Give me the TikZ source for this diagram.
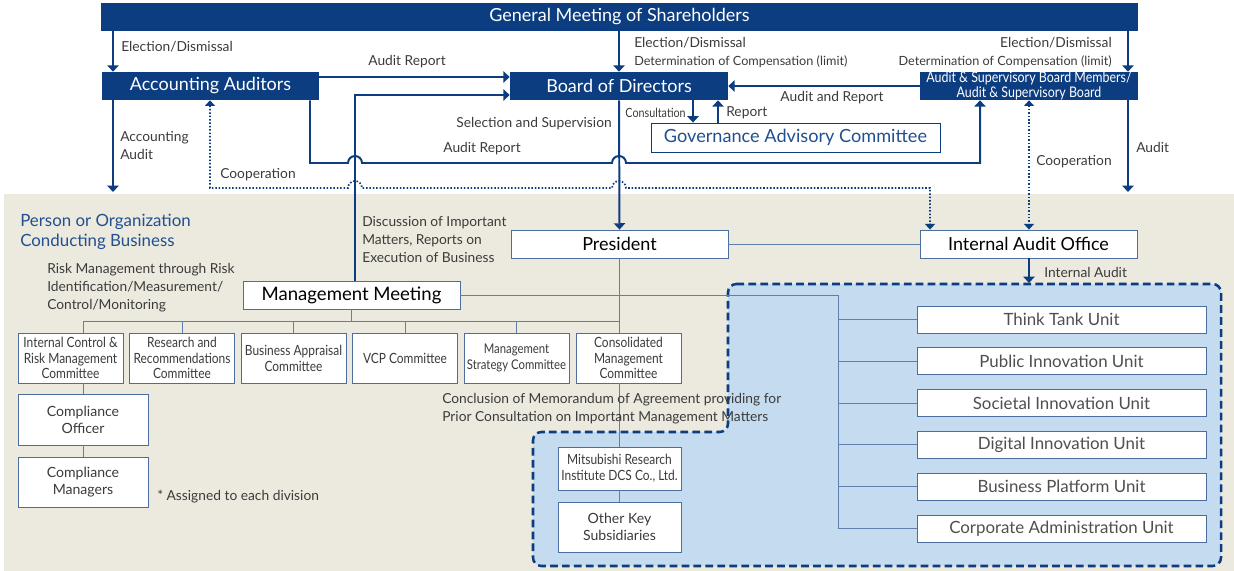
\documentclass[tikz,border=0pt]{standalone}
\usepackage{fontspec}
\setmainfont{Lato}
\newfontfamily\narrowfont[FakeStretch=0.85]{Lato}
\usepackage{xcolor}
\usetikzlibrary{arrows.meta}

\definecolor{navy}{HTML}{0C3D80}
\definecolor{sand}{HTML}{ECEADF}
\definecolor{paleblue}{HTML}{C5DCF0}
\definecolor{frame}{HTML}{4B6E9E}
\definecolor{ink}{HTML}{3B3B3B}
\definecolor{wire}{HTML}{5F7FAD}
\definecolor{heading}{HTML}{21508F}

\newcommand{\pxu}{0.025cm}
\newcommand{\detline}{{\fontsize{9}{12.8}\selectfont Determination of Compensation (limit)}}

\begin{document}
\begin{tikzpicture}[x=\pxu,y=-\pxu,
    hdbox/.style={fill=navy, text=white, font=\fontsize{12.8}{14}\selectfont, inner sep=0pt, minimum height=28*\pxu},
    orgbox/.style={draw=frame, line width=0.6pt, fill=white, text=black, font=\fontsize{12.8}{14}\selectfont, inner sep=0pt, minimum height=28*\pxu},
    cmtbox/.style={draw=frame, line width=0.6pt, fill=white, text=ink, font=\narrowfont\fontsize{10}{11.2}\selectfont, align=center, inner sep=0pt, minimum width=105*\pxu, minimum height=50*\pxu},
    unitbox/.style={draw=frame, line width=0.6pt, fill=white, text=ink!90, font=\fontsize{12}{13}\selectfont, inner sep=0pt, minimum width=289*\pxu, minimum height=27*\pxu},
    lbl/.style={text=ink, font=\fontsize{9.8}{12.8}\selectfont, inner sep=0pt},
    mainarr/.style={navy, line width=1.4pt, -{Triangle[width=8pt,length=4.5pt]}},
    coop/.style={navy, line width=1.2pt, dash pattern=on 1.1pt off 1.3pt, {Triangle[width=7pt,length=4pt]}-{Triangle[width=7pt,length=4pt]}},
    wireline/.style={wire, line width=0.7pt}]
  \useasboundingbox (0,0) rectangle (1234,571);

  % executing side and group area
  \fill[sand] (4,194) rectangle (1234,571);
  \draw[navy, line width=1.8pt, dash pattern=on 5.5pt off 3pt, fill=paleblue, rounded corners=6pt]
    (728,284) -- (1221,284) -- (1221,566) -- (533,566) -- (533,432) -- (728,432) -- cycle;

  % rows and columns of the connectors
  \coordinate (r1) at (0,77);
  \coordinate (r2) at (0,95);
  \coordinate (r3) at (0,163);
  \coordinate (r4) at (0,188);
  \coordinate (r5) at (0,321);
  \coordinate (bgtop) at (0,192);
  \coordinate (grptop) at (0,283);
  \coordinate (k1) at (113,0);
  \coordinate (k2) at (210,0);
  \coordinate (k3) at (310,0);
  \coordinate (k4) at (355,0);
  \coordinate (k5) at (693,0);
  \coordinate (k6) at (718,0);
  \coordinate (k7) at (930,0);
  \coordinate (k8) at (980,0);
  \coordinate (k9) at (1029,0);
  \coordinate (k10) at (1128,0);
  \coordinate (k11) at (838,0);

  % governance side
  \node[hdbox, minimum width=1037*\pxu] (gms) at (619.5,17) {General Meeting of Shareholders};
  \node[hdbox, minimum width=217*\pxu] (aa) at (210.5,86) {Accounting Auditors};
  \node[hdbox, minimum width=218*\pxu] (bod) at (619,86) {Board of Directors};
  \node[hdbox, minimum width=218*\pxu, font=\narrowfont\fontsize{10.4}{10.5}\selectfont, align=center] (asb) at (1029,86)
    {Audit \& Supervisory Board Members/\\Audit \& Supervisory Board};
  \node[orgbox, draw=navy, text=heading, minimum width=289*\pxu, minimum height=29*\pxu, font=\fontsize{12.9}{14}\selectfont] (gac) at (795.5,137.5)
    {Governance Advisory Committee};

  % executing side
  \node[orgbox, minimum width=217*\pxu] (pres) at (619.5,244) {President};
  \node[orgbox, minimum width=217*\pxu] (iao) at (1028.5,244) {Internal Audit Office};
  \node[orgbox, minimum width=217*\pxu, font=\fontsize{13.2}{14}\selectfont] (mm) at (351.5,295) {Management Meeting};

  \node[cmtbox] (icrm) at (70.5,358) {Internal Control \&\\Risk Management\\Committee};
  \node[cmtbox] (rrc) at (182,358) {Research and\\Recommendations\\Committee};
  \node[cmtbox] (bac) at (293.5,358) {Business Appraisal\\Committee};
  \node[cmtbox] (vcp) at (405,358) {VCP Committee};
  \node[cmtbox, font=\narrowfont\fontsize{9.5}{11.5}\selectfont] (msc) at (516.5,358) {Management\\Strategy Committee};
  \node[cmtbox] (cmc) at (628.5,358) {Consolidated\\Management\\Committee};

  \node[cmtbox, minimum width=130*\pxu, minimum height=51*\pxu, font=\fontsize{10}{12}\selectfont] (co) at (83,419.5) {Compliance\\Officer};
  \node[cmtbox, minimum width=130*\pxu, minimum height=50*\pxu, font=\fontsize{10}{12}\selectfont] (cm) at (83,482) {Compliance\\Managers};

  \node[cmtbox, minimum width=123*\pxu, minimum height=43*\pxu] (mri) at (619.5,468.5) {Mitsubishi Research\\Institute DCS Co., Ltd.};
  \node[cmtbox, minimum width=123*\pxu, minimum height=50*\pxu, font=\fontsize{10}{12}\selectfont] (oks) at (619.5,527) {Other Key\\Subsidiaries};

  \foreach \name/\yy/\txt in {ttu/319.5/Think Tank Unit, piu/361/Public Innovation Unit,
      siu/403/Societal Innovation Unit, diu/444.5/Digital Innovation Unit,
      bpu/486.5/Business Platform Unit, cau/528.5/Corporate Administration Unit}
    \node[unitbox] (\name) at (1061.5,\yy) {\txt};

  % organisation lines
  \draw[wireline] (pres.east) -- (iao.west);
  \draw[wireline] (pres.south) -- (pres.south |- cmc.north);
  \draw[wireline] (mm.east) -- (k11 |- mm.east) -- (k11 |- cau.west);
  \foreach \name in {ttu,piu,siu,diu,bpu,cau}
    \draw[wireline] (k11 |- \name.west) -- (\name.west);
  \draw[wireline] (mm.south) -- (mm.south |- r5);
  \draw[wireline] (co.north |- r5) -- (pres.south |- r5);
  \draw[wireline] (co.north |- r5) -- (co.north |- icrm.north);
  \foreach \name in {rrc,bac,vcp,msc}
    \draw[wireline] (\name.north |- r5) -- (\name.north);
  \draw[wireline] (co.north |- icrm.south) -- (co.north);
  \draw[wireline] (co.south) -- (cm.north);
  \draw[wireline] (mri.north |- cmc.south) -- (mri.north);
  \draw[wireline] (mri.south) -- (oks.north);

  % governance arrows
  \draw[mainarr] (gms.south -| k1) -- (aa.north -| k1);
  \draw[mainarr] (gms.south -| bod.north) -- (bod.north);
  \draw[mainarr] (gms.south -| k10) -- (asb.north -| k10);
  \draw[mainarr] (aa.south -| k1) -- (k1 |- bgtop);
  \draw[mainarr] (asb.south -| k10) -- (k10 |- bgtop);
  \draw[mainarr] (aa.east |- r1) -- (bod.west |- r1);
  \draw[mainarr] (mm.north -| k4) -- (k4 |- r2) -- (bod.west |- r2);
  \draw[mainarr] (asb.west) -- (bod.east);
  \draw[mainarr] (bod.south -| k5) -- (gac.north -| k5);
  \draw[mainarr] (gac.north -| k6) -- (bod.south -| k6);
  \draw[mainarr] (bod.south) -- (pres.north);
  \draw[mainarr] (aa.south -| k3) -- (k3 |- r3) -- (348,163) arc[start angle=180, end angle=360, radius=7]
    -- (612,163) arc[start angle=180, end angle=360, radius=7] -- (k8 |- r3) -- (asb.south -| k8);
  \draw[coop] (aa.south -| k2) -- (k2 |- r4) -- (348,188) arc[start angle=180, end angle=360, radius=7]
    -- (612,188) arc[start angle=180, end angle=360, radius=7] -- (k7 |- r4) -- (iao.north -| k7);
  \draw[coop] (asb.south -| k9) -- (iao.north -| k9);
  \draw[mainarr] (iao.south -| k9) -- (k9 |- grptop);

  % labels
  \node[lbl, anchor=west] (l-ed) at (121,47) {Election/Dismissal};
  \node[lbl, anchor=west, align=left] (l-edb) at (634,53) {Election/Dismissal\\\detline};
  \node[lbl, anchor=east, align=right] (l-eda) at (1112,53) {Election/Dismissal\\\detline};
  \node[lbl] (l-ar1) at (407,62) {Audit Report};
  \node[lbl, anchor=east] (l-sel) at (612,124) {Selection and Supervision};
  \node[lbl] (l-ar2) at (482,149) {Audit Report};
  \node[lbl, anchor=east, font=\narrowfont\fontsize{9}{10}\selectfont] (l-con) at (686,113) {Consultation};
  \node[lbl, anchor=west] (l-rep) at (726,113) {Report};
  \node[lbl] (l-aar) at (832,98) {Audit and Report};
  \node[lbl, anchor=west, align=left] (l-acc) at (120,146) {Accounting\\Audit};
  \node[lbl] (l-co1) at (258,175) {Cooperation};
  \node[lbl] (l-co2) at (1074,162) {Cooperation};
  \node[lbl, anchor=west] (l-aud) at (1136,147) {Audit};
  \node[lbl, anchor=west, align=left, text=heading, font=\fontsize{12}{14.2}\selectfont] (l-head) at (20,232)
    {Person or Organization\\Conducting Business};
  \node[lbl, anchor=west, align=left] (l-risk) at (47,288) {Risk Management through Risk\\Identification/Measurement/\\Control/Monitoring};
  \node[lbl, anchor=west, align=left] (l-disc) at (362,240) {Discussion of Important\\Matters, Reports on\\Execution of Business};
  \node[lbl, anchor=west] (l-ia) at (1044,272) {Internal Audit};
  \node[lbl, anchor=west, align=left] (l-moa) at (442,409)
    {Conclusion of Memorandum of Agreement providing for\\Prior Consultation on Important Management Matters};
  \node[lbl, anchor=west] (l-note) at (157,497) {* Assigned to each division};
\end{tikzpicture}
\end{document}
